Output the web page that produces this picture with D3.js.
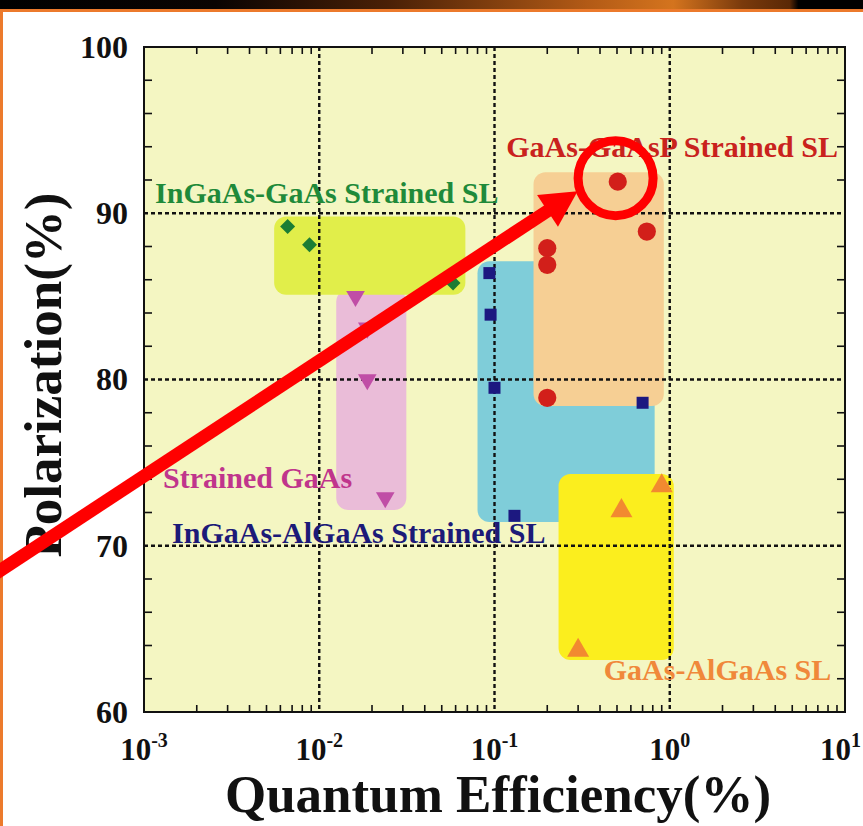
<!DOCTYPE html>
<meta charset="utf-8">
<head>
<style>
body { margin: 0; background: #fff; }
text { font-family: "Liberation Serif", "Times New Roman", serif; font-weight: bold; }
</style>
</head>
<body>
<div id="chart"></div>
<script src="https://cdn.jsdelivr.net/npm/d3@7/dist/d3.min.js"></script>
<script>

// ---- data ----
// InGaAs-GaAs strained SL (green diamonds)
const qeInGaAsGaAs = [0.0066, 0.0088, 0.058];
const polInGaAsGaAs = [89.2, 88.1, 85.8];
// strained GaAs (pink down triangles)
const qeStrainedGaAs = [0.0161, 0.0188, 0.0188, 0.0238];
const polStrainedGaAs = [85.0, 83.1, 80.0, 72.9];
// InGaAs-AlGaAs strained SL (navy squares)
const qeInGaAsAlGaAs = [0.0935, 0.095, 0.10, 0.70, 0.13];
const polInGaAsAlGaAs = [86.4, 83.9, 79.5, 78.6, 71.8];
// GaAs-GaAsP strained SL (red circles)
const qeGaAsGaAsP = [0.505, 0.74, 0.20, 0.20, 0.20];
const polGaAsGaAsP = [91.9, 88.9, 87.9, 86.9, 78.9];
// GaAs-AlGaAs SL (orange triangles)
const qeGaAsAlGaAs = [0.90, 0.53, 0.30];
const polGaAsAlGaAs = [73.6, 72.1, 63.7];

// shaded regions [qeMin, qeMax, polMin, polMax], in drawing order
const regionNames = ["pink", "green", "blue", "peach", "yellow"];
const regionBounds = [
  [0.0125, 0.0314, 72.15, 85.4],
  [0.00553, 0.0682, 85.1, 89.8],
  [0.080, 0.82, 71.43, 87.12],
  [0.167, 0.925, 78.4, 92.47],
  [0.232, 1.054, 63.13, 74.31]
];

// label text and anchor (qe, pol)
const labelTexts = ["GaAs-GaAsP Strained SL", "InGaAs-GaAs Strained SL", "Strained GaAs",
  "InGaAs-AlGaAs Strained SL", "GaAs-AlGaAs SL"];
const labelQe = [9.12, 0.001156, 0.001284, 0.001445, 0.42];
const labelPol = [93.38, 90.62, 73.47, 70.17, 61.92];

// axis ticks
const xDecades = [-3, -2, -1, 0, 1];
const yTicks = [60, 70, 80, 90, 100];

// highlight annotation (qe, pol)
const arrowFrom = [10 ** -3.88, 68.1];
const arrowTo = [0.298, 91.33];
const ringAt = [0.491, 92.11];

const width = 863, height = 826;
const plot = {left: 144, right: 845, top: 47, bottom: 712};

const svg = d3.select('#chart').append('svg')
  .attr('width', width)
  .attr('height', height);

// slide header bar + left border
const defs = svg.append('defs');
const grad = defs.append('linearGradient').attr('id', 'hdr');
[[0, '#000'], [0.25, '#0a0402'], [0.45, '#4a2006'], [0.68, '#b25a16'], [0.78, '#d4741e'],
 [0.86, '#7a3a0c'], [0.915, '#5a2806'], [0.925, '#000'], [1, '#000']]
  .forEach(s => grad.append('stop').attr('offset', s[0]).attr('stop-color', s[1]));
svg.append('rect').attr('width', width).attr('height', 9).attr('fill', 'url(#hdr)');
svg.append('rect').attr('y', 9).attr('width', width).attr('height', 3).attr('fill', '#ec7a2c');
svg.append('rect').attr('y', 9).attr('width', 3).attr('height', height).attr('fill', '#ec7a2c');

const x = d3.scaleLog().domain([1e-3, 1e1]).range([plot.left, plot.right]);
const y = d3.scaleLinear().domain([60, 100]).range([plot.bottom, plot.top]);

// plot background
svg.append('rect')
  .attr('x', plot.left).attr('y', plot.top)
  .attr('width', plot.right - plot.left).attr('height', plot.bottom - plot.top)
  .attr('fill', '#f4f6c2');

// regions
const regionColor = d3.scaleOrdinal().domain(regionNames)
  .range(['#eabcd8', '#e1ee4a', '#7fcdd9', '#f6cf94', '#fbee1e']);
svg.append('g').selectAll('rect')
  .data(regionBounds)
  .join('rect')
  .attr('x', d => x(d[0]))
  .attr('y', d => y(d[3]))
  .attr('width', d => x(d[1]) - x(d[0]))
  .attr('height', d => y(d[2]) - y(d[3]))
  .attr('rx', 12)
  .attr('fill', (d, i) => regionColor(regionNames[i]));

// grid lines (dotted)
const grid = svg.append('g').attr('stroke', '#111').attr('stroke-width', 2.4).attr('stroke-dasharray', '4,3');
xDecades.slice(1, -1).forEach(e => {
  grid.append('line').attr('x1', x(10 ** e)).attr('x2', x(10 ** e)).attr('y1', plot.top).attr('y2', plot.bottom);
});
yTicks.slice(1, -1).forEach(v => {
  grid.append('line').attr('y1', y(v)).attr('y2', y(v)).attr('x1', plot.left).attr('x2', plot.right);
});

// minor ticks, inward on all 4 sides
const minorX = [];
xDecades.slice(0, -1).forEach(e => { for (let k = 2; k <= 9; k++) minorX.push(k * 10 ** e); });
const minorY = d3.range(62, 100, 2).filter(v => v % 10 != 0);
const ticks = svg.append('g').attr('stroke', '#111').attr('stroke-width', 1.6);
minorX.forEach(v => {
  ticks.append('line').attr('x1', x(v)).attr('x2', x(v)).attr('y1', plot.top).attr('y2', plot.top + 7);
  ticks.append('line').attr('x1', x(v)).attr('x2', x(v)).attr('y1', plot.bottom).attr('y2', plot.bottom - 7);
});
minorY.forEach(v => {
  ticks.append('line').attr('y1', y(v)).attr('y2', y(v)).attr('x1', plot.left).attr('x2', plot.left + 8);
  ticks.append('line').attr('y1', y(v)).attr('y2', y(v)).attr('x1', plot.right).attr('x2', plot.right - 8);
});

// frame
svg.append('rect')
  .attr('x', plot.left).attr('y', plot.top)
  .attr('width', plot.right - plot.left).attr('height', plot.bottom - plot.top)
  .attr('fill', 'none').attr('stroke', '#111').attr('stroke-width', 2);

// tick labels
svg.append('g').selectAll('text')
  .data(yTicks)
  .join('text')
  .attr('x', plot.left - 16)
  .attr('y', d => y(d))
  .attr('dy', '0.34em')
  .attr('text-anchor', 'end')
  .attr('font-size', 32)
  .attr('fill', '#111')
  .text(d => d);

// last label would run past the page edge, so end-anchor it there
const xl = svg.append('g').selectAll('text')
  .data(xDecades)
  .join('text')
  .attr('x', (d, i) => i == xDecades.length - 1 ? width - 2 : x(10 ** d))
  .attr('y', 760)
  .attr('text-anchor', (d, i) => i == xDecades.length - 1 ? 'end' : 'middle')
  .attr('font-size', 31)
  .attr('fill', '#111');
xl.append('tspan').text('10');
xl.append('tspan').attr('font-size', 20).attr('dy', -13).text(d => d);

// axis titles
svg.append('text')
  .attr('x', 498).attr('y', 812)
  .attr('text-anchor', 'middle')
  .attr('font-size', 53)
  .attr('fill', '#111')
  .text('Quantum Efficiency(%)');
svg.append('text')
  .attr('transform', 'translate(61,375) rotate(-90)')
  .attr('text-anchor', 'middle')
  .attr('font-size', 53)
  .attr('fill', '#111')
  .text('Polarization(%)');

// data series
const series = [
  {qe: qeInGaAsGaAs, pol: polInGaAsGaAs, color: '#1b7d34', type: d3.symbolSquare, size: 112, rot: 45},
  {qe: qeStrainedGaAs, pol: polStrainedGaAs, color: '#c04ea6', type: d3.symbolTriangle, size: 150, rot: 180},
  {qe: qeInGaAsAlGaAs, pol: polInGaAsAlGaAs, color: '#1c1880', type: d3.symbolSquare, size: 144, rot: 0},
  {qe: qeGaAsGaAsP, pol: polGaAsGaAsP, color: '#d21f1a', type: d3.symbolCircle, size: 260, rot: 0},
  {qe: qeGaAsAlGaAs, pol: polGaAsAlGaAs, color: '#f28a30', type: d3.symbolTriangle, size: 210, rot: 0}
];
series.forEach(s => {
  svg.append('g').selectAll('path')
    .data(s.qe)
    .join('path')
    .attr('d', d3.symbol().type(s.type).size(s.size))
    .attr('transform', (d, i) => `translate(${x(d)},${y(s.pol[i])}) rotate(${s.rot})`)
    .attr('fill', s.color);
});

// region labels
const labelColors = ['#c9221d', '#1f8a3a', '#c0358c', '#1c1a78', '#f0883a'];
svg.append('g').selectAll('text')
  .data(labelTexts)
  .join('text')
  .attr('x', (d, i) => x(labelQe[i]))
  .attr('y', (d, i) => y(labelPol[i]))
  .attr('text-anchor', (d, i) => i == 0 ? 'end' : 'start')
  .attr('font-size', 30)
  .attr('fill', (d, i) => labelColors[i])
  .text(d => d);

// red arrow + ring annotation
const ax0 = x(arrowFrom[0]), ay0 = y(arrowFrom[1]);
const ax1 = x(arrowTo[0]), ay1 = y(arrowTo[1]);
const ang = Math.atan2(ay1 - ay0, ax1 - ax0);
const headLen = 36, headHalf = 19;
const bx = ax1 - headLen * Math.cos(ang), by = ay1 - headLen * Math.sin(ang);
svg.append('line')
  .attr('x1', ax0).attr('y1', ay0)
  .attr('x2', bx + 2 * Math.cos(ang)).attr('y2', by + 2 * Math.sin(ang))
  .attr('stroke', '#ff0000').attr('stroke-width', 13);
svg.append('path')
  .attr('d', d3.line()([
    [ax1, ay1],
    [bx - headHalf * Math.sin(ang), by + headHalf * Math.cos(ang)],
    [bx + headHalf * Math.sin(ang), by - headHalf * Math.cos(ang)]
  ]) + 'Z')
  .attr('fill', '#ff0000');
svg.append('circle')
  .attr('cx', x(ringAt[0])).attr('cy', y(ringAt[1]))
  .attr('r', 37.5)
  .attr('fill', 'none')
  .attr('stroke', '#ff0000').attr('stroke-width', 9);

</script>
</body>
</html>
